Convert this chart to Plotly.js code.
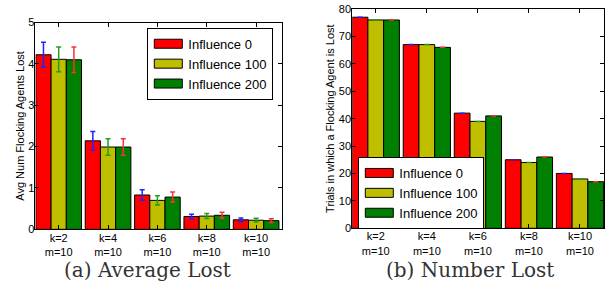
<!DOCTYPE html>
<html>
<head>
<meta charset="utf-8">
<script src="https://cdn.plot.ly/plotly-3.0.1.min.js"></script>
<style>
html,body{margin:0;padding:0;background:#fff;}
#chart{width:613px;height:292px;}
</style>
</head>
<body>
<div id="chart"></div>
<script>
const categories = ["k=2<br>m=10", "k=4<br>m=10", "k=6<br>m=10", "k=8<br>m=10", "k=10<br>m=10"];
const seriesNames = ["Influence 0", "Influence 100", "Influence 200"];

// (a) Average Lost
const avgLost0 = [4.22, 2.14, 0.83, 0.31, 0.23];
const avgLost100 = [4.11, 1.99, 0.70, 0.32, 0.22];
const avgLost200 = [4.10, 1.99, 0.78, 0.34, 0.21];
const avgErr0 = [0.30, 0.225, 0.125, 0.055, 0.045];
const avgErr100 = [0.30, 0.20, 0.11, 0.06, 0.045];
const avgErr200 = [0.31, 0.20, 0.12, 0.07, 0.045];

// (b) Number Lost
const numLost0 = [77, 67, 42, 25, 20];
const numLost100 = [76, 67, 39, 24, 18];
const numLost200 = [76, 66, 41, 26, 17];
const numErr0 = [0, 0, 0, 0, 0];
const numErr100 = [0, 0, 0, 0, 0];
const numErr200 = [0, 0, 0, 0, 0];

const barColors = ["#ff0000", "#bfbf00", "#008000"];
const errColors = ["#2222ff", "#20a020", "#ff3030"];

const FONT = "Liberation Sans, Arial, sans-serif";

function mk(vals, errs, i, xa, ya, legend) {
  return {
    type: "bar",
    x: categories,
    y: vals,
    name: seriesNames[i],
    xaxis: xa, yaxis: ya,
    legend: legend,
    showlegend: true,
    marker: {color: barColors[i], line: {color: "#000", width: 1}},
    error_y: {type: "data", array: errs, visible: true, color: errColors[i], thickness: 1.5, width: 2.5},
    hoverinfo: "skip"
  };
}

const data = [
  mk(avgLost0, avgErr0, 0, "x", "y", "legend"),
  mk(avgLost100, avgErr100, 1, "x", "y", "legend"),
  mk(avgLost200, avgErr200, 2, "x", "y", "legend"),
  mk(numLost0, numErr0, 0, "x2", "y2", "legend2"),
  mk(numLost100, numErr100, 1, "x2", "y2", "legend2"),
  mk(numLost200, numErr200, 2, "x2", "y2", "legend2")
];

const axCommon = {
  showline: true, linecolor: "#000", linewidth: 1, mirror: "allticks",
  ticks: "inside", ticklen: 4, tickcolor: "#000", tickwidth: 1,
  showgrid: false, zeroline: false,
  tickfont: {family: FONT, size: 11, color: "#000"}
};

const layout = {
  width: 613, height: 292,
  margin: {l: 0, r: 0, t: 0, b: 0},
  paper_bgcolor: "#fff", plot_bgcolor: "#fff",
  font: {family: FONT, color: "#000"},
  barmode: "group", bargap: 0.075, bargroupgap: 0,
  xaxis: Object.assign({}, axCommon, {domain: [0.0579, 0.4605], range: [-0.47, 4.53], type: "category", anchor: "y", ticklabelstandoff: -2}),
  yaxis: Object.assign({}, axCommon, {domain: [0.2146, 0.9229], range: [0, 5], dtick: 1, anchor: "x", ticklabelstandoff: -2,
    title: {text: "Avg Num Flocking Agents Lost", font: {family: FONT, size: 11}, standoff: 1}}),
  xaxis2: Object.assign({}, axCommon, {domain: [0.5747, 0.9853], range: [-0.46, 4.47], type: "category", anchor: "y2", ticklabelstandoff: -2}),
  yaxis2: Object.assign({}, axCommon, {domain: [0.2182, 0.9692], range: [0, 80], dtick: 10, anchor: "x2", ticklabelstandoff: -2,
    title: {text: "Trials in which a Flocking Agent is Lost", font: {family: FONT, size: 11}, standoff: 1}}),
  legend: {x: 0.2403, y: 0.9048, xanchor: "left", yanchor: "top", bgcolor: "#fff",
    bordercolor: "#000", borderwidth: 1, font: {family: FONT, size: 13, color: "#000"}, tracegroupgap: 0},
  legend2: {x: 0.5845, y: 0.4623, xanchor: "left", yanchor: "top", bgcolor: "#fff",
    bordercolor: "#000", borderwidth: 1, font: {family: FONT, size: 13, color: "#000"}, tracegroupgap: 0},
  annotations: [
    {text: "(a) Average Lost", xref: "paper", yref: "paper", x: 147 / 613, y: 1 - 270 / 292,
      xanchor: "center", yanchor: "middle", showarrow: false,
      font: {family: "DejaVu Serif, serif", size: 20, color: "#333"}},
    {text: "(b) Number Lost", xref: "paper", yref: "paper", x: 470 / 613, y: 1 - 270 / 292,
      xanchor: "center", yanchor: "middle", showarrow: false,
      font: {family: "DejaVu Serif, serif", size: 20, color: "#333"}}
  ]
};

Plotly.newPlot("chart", data, layout, {staticPlot: true, displayModeBar: false}).then(function () {
  // widen legend swatches to matplotlib-style rectangles
  document.querySelectorAll("g.legendpoints path").forEach(function (p) {
    p.setAttribute("d", "M14,4.5H-14V-4.5H14Z");
  });
});
</script>
</body>
</html>
